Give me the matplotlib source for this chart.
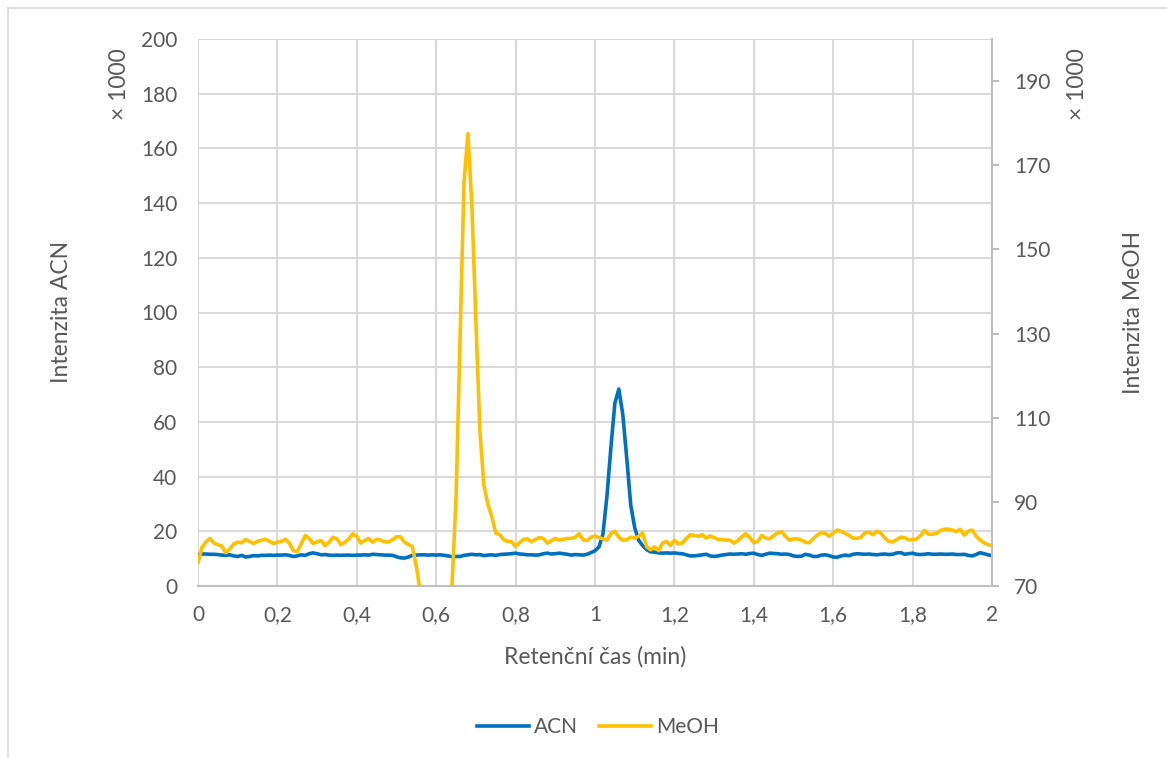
import numpy as np
import matplotlib.pyplot as plt
from matplotlib.lines import Line2D

# retention time grid (min)
cas = np.round(np.arange(0, 201) * 0.01, 2)

# ACN intensity (x 1000)
acn = [
    11.4, 11.7, 11.7, 11.6, 11.6, 11.5, 11.3, 11.2, 11.4, 11.0,
    10.8, 11.2, 10.6, 10.8, 11.1, 11.0, 11.2, 11.2, 11.3, 11.2,
    11.3, 11.3, 11.4, 11.2, 10.8, 11.0, 11.4, 11.2, 11.8, 12.1,
    11.8, 11.4, 11.5, 11.3, 11.2, 11.3, 11.2, 11.3, 11.3, 11.2,
    11.3, 11.3, 11.4, 11.3, 11.6, 11.5, 11.4, 11.3, 11.3, 11.2,
    10.7, 10.3, 10.2, 10.6, 11.2, 11.3, 11.4, 11.4, 11.3, 11.4,
    11.3, 11.4, 11.2, 11.0, 10.7, 10.8, 10.8, 11.2, 11.4, 11.6,
    11.4, 11.5, 11.1, 11.3, 11.4, 11.2, 11.5, 11.6, 11.7, 11.8,
    12.0, 11.7, 11.6, 11.4, 11.4, 11.3, 11.4, 11.8, 12.0, 11.7,
    11.8, 12.0, 11.8, 11.6, 11.3, 11.5, 11.4, 11.3, 11.6, 12.2,
    12.9, 14.3, 19.0, 32.7, 50.6, 66.8, 72.0, 62.7, 46.7, 29.6,
    21.3, 16.7, 14.8, 13.3, 12.5, 12.4, 12.1, 12.0, 12.1, 12.0,
    12.1, 11.9, 11.8, 11.4, 11.0, 11.0, 11.2, 11.4, 11.6, 11.0,
    10.8, 11.0, 11.3, 11.5, 11.7, 11.6, 11.7, 11.8, 11.6, 11.9,
    12.0, 11.5, 11.2, 11.6, 12.0, 11.9, 11.8, 11.6, 11.7, 11.5,
    11.0, 10.8, 10.9, 11.6, 11.3, 10.8, 10.8, 11.3, 11.4, 11.1,
    10.6, 10.5, 11.0, 11.3, 11.1, 11.6, 11.8, 11.7, 11.6, 11.7,
    11.5, 11.4, 11.6, 11.7, 11.5, 11.6, 12.1, 12.2, 11.6, 11.8,
    12.0, 11.6, 11.5, 11.6, 11.8, 11.6, 11.6, 11.7, 11.6, 11.6,
    11.7, 11.5, 11.5, 11.6, 11.2, 11.0, 11.5, 12.2, 11.8, 11.4,
    11.1,
]

# MeOH intensity (x 1000)
meoh = [
    75.5, 79.2, 80.5, 81.3, 80.2, 79.8, 79.5, 77.9, 78.8, 80.0,
    80.4, 80.3, 81.0, 80.6, 80.1, 80.6, 80.9, 81.1, 80.6, 80.1,
    80.4, 80.6, 81.1, 80.2, 78.4, 78.2, 80.0, 82.0, 81.3, 80.1,
    80.5, 80.8, 79.6, 80.4, 81.6, 81.2, 79.8, 80.4, 81.2, 82.4,
    81.8, 80.2, 80.8, 81.3, 80.4, 81.1, 80.9, 80.5, 80.5, 81.0,
    81.7, 81.7, 80.4, 79.9, 79.3, 74.7, 68.5, 62.0, 57.0, 53.0,
    51.0, 51.0, 53.0, 58.0, 70.5, 91.0, 128.0, 166.0, 177.5, 160.0,
    133.0, 107.0, 94.0, 89.5, 86.5, 82.6, 82.2, 81.0, 80.6, 80.5,
    79.4, 80.3, 81.1, 81.2, 80.5, 81.1, 81.5, 81.3, 80.2, 80.8,
    81.3, 80.9, 81.1, 81.3, 81.3, 81.6, 82.4, 81.0, 80.8, 81.6,
    81.9, 81.5, 81.2, 80.9, 82.5, 83.0, 81.6, 80.9, 81.0, 81.6,
    81.4, 81.8, 82.6, 79.3, 78.6, 79.3, 78.4, 80.2, 80.6, 79.6,
    80.9, 80.0, 80.2, 81.3, 82.2, 82.0, 81.8, 82.2, 81.4, 81.9,
    81.5, 81.1, 81.0, 80.9, 80.9, 80.2, 80.8, 81.7, 82.4, 81.5,
    80.3, 80.6, 82.0, 81.4, 81.2, 82.0, 82.6, 82.9, 81.8, 80.9,
    81.2, 81.2, 80.9, 80.4, 80.3, 81.3, 82.1, 82.7, 82.5, 81.8,
    82.6, 83.3, 83.0, 82.5, 82.0, 81.4, 81.3, 81.6, 82.6, 82.8,
    82.2, 83.0, 82.6, 81.4, 80.6, 80.5, 81.0, 81.6, 81.5, 81.0,
    81.0, 81.2, 82.0, 83.2, 82.3, 82.3, 82.5, 83.2, 83.5, 83.5,
    83.3, 82.9, 83.5, 82.1, 83.0, 83.3, 81.9, 80.9, 80.3, 79.8,
    79.6,
]

x_ticks = [0, 0.2, 0.4, 0.6, 0.8, 1.0, 1.2, 1.4, 1.6, 1.8, 2.0]
x_labels = ['0', '0,2', '0,4', '0,6', '0,8', '1', '1,2', '1,4', '1,6', '1,8', '2']
acn_ticks = list(range(0, 201, 20))
meoh_ticks = list(range(70, 191, 20))

plt.rcParams['font.family'] = ['Lato', 'DejaVu Sans']
text_col = '#595959'
grid_col = '#d9d9d9'
fs = 15
fs_title = 16.5
lw = 2.6

fig = plt.figure(figsize=(11.67, 7.58), dpi=100)
ax = fig.add_axes([198 / 1167, 1 - 586 / 758, (992 - 198) / 1167, (586 - 39) / 758])
ax2 = ax.twinx()

ax.plot(cas, acn, color='#0070C0', lw=lw, solid_joinstyle='round', solid_capstyle='round')
ax2.plot(cas, meoh, color='#FFC000', lw=lw, solid_joinstyle='round', solid_capstyle='round')

ax.set_xlim(0, 2)
ax.set_ylim(0, 200)
ax2.set_ylim(70, 200)
ax.set_xticks(x_ticks)
ax.set_xticklabels(x_labels)
ax.set_yticks(acn_ticks)
ax2.set_yticks(meoh_ticks)

ax.grid(True, color=grid_col, lw=1.5)
ax.set_axisbelow(True)
for a in (ax, ax2):
    for s in a.spines.values():
        s.set_visible(False)
ax.spines['bottom'].set_visible(True)
ax.spines['bottom'].set_color('#bfbfbf')
ax.spines['bottom'].set_linewidth(1.5)
ax2.spines['right'].set_visible(True)
ax2.spines['right'].set_color('#bfbfbf')
ax2.spines['right'].set_linewidth(1.5)

ax.tick_params(axis='x', length=0, pad=14, labelsize=fs, labelcolor=text_col)
ax.tick_params(axis='y', length=0, pad=15, labelsize=fs, labelcolor=text_col)
ax2.tick_params(axis='y', length=5, width=1.5, color='#bfbfbf', direction='out',
                pad=11, labelsize=fs, labelcolor=text_col)

ax.set_xlabel('Retenční čas (min)', fontsize=fs_title, color=text_col, labelpad=15)
fig.text(62 / 1167, 1 - 312 / 758, 'Intenzita ACN', rotation=90, fontsize=fs_title,
         color=text_col, ha='center', va='center')
fig.text(1133 / 1167, 1 - 312 / 758, 'Intenzita MeOH', rotation=90, fontsize=fs_title,
         color=text_col, ha='center', va='center')
fig.text(120 / 1167, 1 - 84 / 758, '× 1000', rotation=90, fontsize=fs_title,
         color=text_col, ha='center', va='center')
fig.text(1078 / 1167, 1 - 84 / 758, '× 1000', rotation=90, fontsize=fs_title,
         color=text_col, ha='center', va='center')

handles = [Line2D([], [], color='#0070C0', lw=lw),
           Line2D([], [], color='#FFC000', lw=lw)]
fig.legend(handles, ['ACN', 'MeOH'], loc='center', bbox_to_anchor=(598 / 1167, 1 - 727 / 758),
           ncol=2, frameon=False, fontsize=fs, labelcolor=text_col,
           handlelength=2.5, handletextpad=0.25, columnspacing=1.0)

# chart frame
fig.add_artist(Line2D([8 / 1167, 1], [1 - 8 / 758, 1 - 8 / 758], color=grid_col, lw=1.2))
fig.add_artist(Line2D([8 / 1167, 8 / 1167], [0, 1 - 8 / 758], color=grid_col, lw=1.2))

fig.savefig('out.png', dpi=100)
